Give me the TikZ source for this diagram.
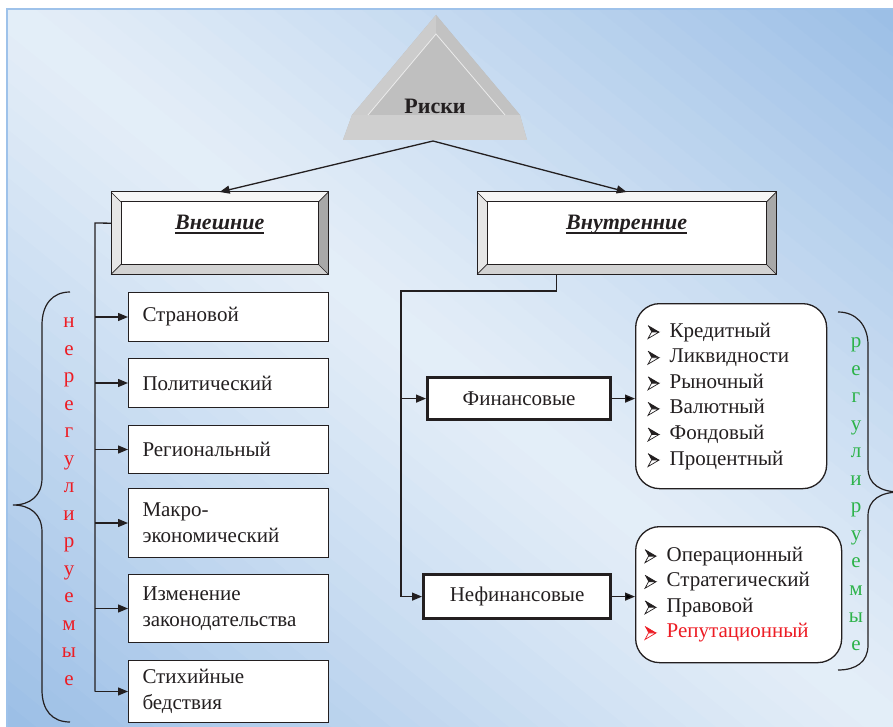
\documentclass[tikz,border=0pt]{standalone}
\usepackage{fontspec}
\setmainfont{Liberation Serif}
\usetikzlibrary{arrows.meta,calc}
\definecolor{bgdark}{HTML}{9CBFE6}
\definecolor{bglight}{HTML}{E4EEF8}
\definecolor{bgedge}{HTML}{9EC2EA}
\definecolor{redt}{HTML}{ED1C24}
\definecolor{greent}{HTML}{2DB34A}
\definecolor{ink}{HTML}{231F20}
\definecolor{bvtop}{HTML}{F6F6F6}
\definecolor{bvleft}{HTML}{E6E6E6}
\definecolor{bvright}{HTML}{A8A8A8}
\definecolor{bvbottom}{HTML}{D2D2D2}
\newcommand\bulc[1]{\makebox[22pt][l]{\tikz[x=1pt,y=1pt,baseline=0pt,sharp corners]{%
  \fill[#1] (0,11.5)--(11,5)--(3.5,5)--cycle;
  \filldraw[fill=white,draw=#1,line width=0.7pt,line join=miter] (0,-1.5)--(11,5)--(3.5,5)--cycle;
  \draw[#1,line width=0.7pt] (0,11.5)--(11,5);}}}
\newcommand\bul{\bulc{ink}}
\newcommand\myul[1]{\setbox0\hbox{#1}\rlap{\rule[-4.5pt]{\wd0}{2pt}}\box0}
\newcommand\bevel[2]{%
  \fill[bvtop] (#1.north west) -- (#1.north east) -- ($(#1.north east)+(-#2,#2)$) -- ($(#1.north west)+(#2,#2)$) -- cycle;
  \fill[bvleft] (#1.north west) -- (#1.south west) -- ($(#1.south west)+(#2,-#2)$) -- ($(#1.north west)+(#2,#2)$) -- cycle;
  \fill[bvright] (#1.north east) -- (#1.south east) -- ($(#1.south east)+(-#2,-#2)$) -- ($(#1.north east)+(-#2,#2)$) -- cycle;
  \fill[bvbottom] (#1.south west) -- (#1.south east) -- ($(#1.south east)+(-#2,-#2)$) -- ($(#1.south west)+(#2,-#2)$) -- cycle;
  \draw[line width=1pt,ink] (#1.north west) rectangle (#1.south east);
  \draw[line width=1pt,ink] ($(#1.north west)+(#2,#2)$) rectangle ($(#1.south east)+(-#2,-#2)$);
  \draw[line width=0.6pt,ink] (#1.north west) -- ($(#1.north west)+(#2,#2)$)
     (#1.north east) -- ($(#1.north east)+(-#2,#2)$)
     (#1.south west) -- ($(#1.south west)+(#2,-#2)$)
     (#1.south east) -- ($(#1.south east)+(-#2,-#2)$);
}
\tikzset{
  every node/.style={font=\fontsize{21}{26}\selectfont, text=ink},
  conn/.style={line width=1.3pt, draw=ink},
  arr/.style={conn, -{Triangle[length=10pt,width=8pt]}},
  leftbox/.style={draw=ink, fill=white, line width=1pt, anchor=north west,
     text width=172pt, inner xsep=14pt, inner ysep=0pt, align=left, minimum width=200pt},
  thickbox/.style={draw=ink, fill=white, line width=3.2pt, anchor=north west, inner sep=0pt, align=center},
  roundbox/.style={draw=ink, fill=white, line width=1.3pt, rounded corners=24pt, anchor=north west, align=left, inner ysep=0pt,
     font=\fontsize{21}{25.6}\selectfont},
  bevelbase/.style={fill=white, anchor=north west, inner sep=0pt},
  vertletters/.style={align=center, font=\fontsize{21}{27.5}\selectfont},
}
\begin{document}
\begin{tikzpicture}[x=1pt,y=-1pt]
\clip (0,0) rectangle (893,727);
\fill[white] (0,0) rectangle (893,727);
% background gradient (bands)
\begin{scope}
\clip (7,9) rectangle (900,735);
\begin{scope}[rotate around={51:(450,368)}]
\foreach \i in {0,...,59}{
  \pgfmathsetmacro\t{100*(abs(\i-29.5)/29.5)^1.15}
  \pgfmathsetmacro\xa{-108+\i*18.6}
  \fill[bgdark!\t!bglight] (\xa,-500) rectangle ({\xa+19.2},1236);
}
\end{scope}
\end{scope}
\draw[bgedge, line width=1.5pt] (7,735) -- (7,9) -- (900,9);

% triangle
\fill[gray!55] (436,15) -- (352,115) -- (343,140) -- (527,140) -- (520,115) -- cycle;
\fill[gray!40] (436,15) -- (352,115) -- (368,115) -- (436,34) -- cycle;
\fill[gray!48] (436,15) -- (520,115) -- (505,115) -- (436,34) -- cycle;
\fill[gray!38] (352,115) -- (343,140) -- (527,140) -- (520,115) -- (505,115) -- (368,115) -- cycle;
\fill[gray!50] (436,34) -- (368,115) -- (505,115) -- cycle;
\draw[white!85!gray, line width=0.8pt] (368,115) -- (436,34) -- (505,115);
\node[font=\bfseries\fontsize{22}{26}\selectfont] (risk) at (435,106) {Риски};
\coordinate (tb) at (433,141);

% bevel boxes
\node[bevelbase, minimum width=217pt, minimum height=82pt] (ext) at (111,192) {};
\bevel{ext}{10}
\node[font=\bfseries\itshape\fontsize{22}{26}\selectfont] (extl) at ($(ext.center)+(0,-9)$) {\myul{Внешние}};
\node[bevelbase, minimum width=299pt, minimum height=82pt] (int) at (477,192) {};
\bevel{int}{10}
\node[font=\bfseries\itshape\fontsize{22}{26}\selectfont] (intl) at ($(int.center)+(0,-9)$) {\myul{Внутренние}};

\draw[arr] (tb) -- (ext.north);
\draw[arr] (tb) -- (int.north);

% left boxes
\node[leftbox, minimum height=49pt] (s1) at (128,292) {Страновой};
\node[leftbox, minimum height=49pt] (s2) at (128,358) {Политический};
\node[leftbox, minimum height=48pt] (s3) at (128,425) {Региональный};
\node[leftbox, minimum height=69pt] (s4) at (128,488) {Макро-\\экономический};
\node[leftbox, minimum height=68pt] (s5) at (128,574) {Изменение\\законодательства};
\node[leftbox, minimum height=62pt] (s6) at (128,660) {Стихийные\\бедствия};

\coordinate (sp) at (95,223);
\draw[conn] ([yshift=10pt]ext.west) -- (sp) -- (sp |- s6.west);
\foreach \b in {s1,s2,s3,s4,s5,s6} \draw[arr] (sp |- \b.west) -- (\b.west);

% left brace
\draw[line width=1.2pt, ink] (70,292) .. controls (52,292) and (42,305) .. (42,325) -- (42,478)
   .. controls (42,496) and (30,505) .. (13,505) .. controls (30,505) and (42,514) .. (42,532)
   -- (42,690) .. controls (42,710) and (52,722) .. (70,722);
\node[vertletters, text=redt] (nereg) at (69,502) {н\\е\\р\\е\\г\\у\\л\\и\\р\\у\\е\\м\\ы\\е};

% internal branch
\node[thickbox, minimum width=183pt, minimum height=42pt] (fin) at (426,376) {Финансовые};
\node[thickbox, minimum width=187pt, minimum height=44pt] (nefin) at (422,573) {Нефинансовые};
\coordinate (sp2) at (401,291);
\draw[conn] ([xshift=-70pt]int.south) |- (sp2) -- (sp2 |- nefin.west);
\draw[arr] (sp2 |- fin.west) -- (fin.west);
\draw[arr] (sp2 |- nefin.west) -- (nefin.west);

\node[roundbox, minimum width=191pt, minimum height=185pt, text width=167pt, inner xsep=12pt] (r1) at (635,303)
  {\bul Кредитный\\\bul Ликвидности\\\bul Рыночный\\\bul Валютный\\\bul Фондовый\\\bul Процентный};
\node[roundbox, minimum width=206pt, minimum height=136pt, text width=188pt, inner xsep=9pt] (r2) at (635,526)
  {\bul Операционный\\\bul Стратегический\\\bul Правовой\\\bulc{redt}\textcolor{redt}{Репутационный}};
\draw[arr] (fin.east) -- (fin.east -| r1.west);
\draw[arr] (nefin.east) -- (nefin.east -| r2.west);

% right brace
\draw[line width=1.2pt, ink] (838,312) .. controls (856,312) and (868,325) .. (868,345) -- (868,468)
   .. controls (868,484) and (880,492) .. (900,492) .. controls (880,492) and (868,500) .. (868,516)
   -- (868,645) .. controls (868,662) and (856,670) .. (838,670);
\node[vertletters, text=greent] (reg) at (856,494) {р\\е\\г\\у\\л\\и\\р\\у\\е\\м\\ы\\е};
\end{tikzpicture}
\end{document}
